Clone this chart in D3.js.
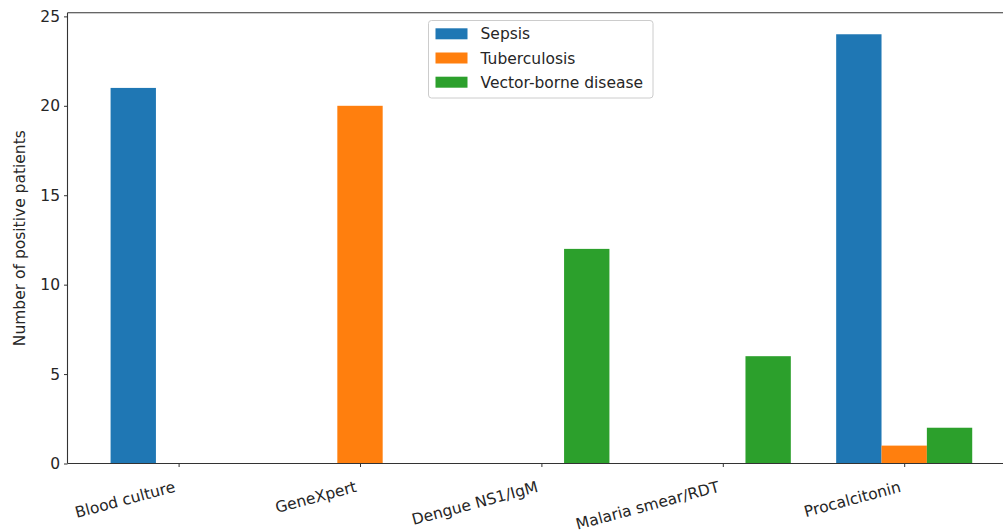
<!DOCTYPE html>
<html><head><meta charset="utf-8">
<script src="https://cdn.jsdelivr.net/npm/d3@7"></script>
<style>body{margin:0;background:#fff;} text{font-family:"DejaVu Sans",sans-serif;}</style>
</head><body>
<svg id="c" width="1003" height="530"></svg>
<script>
const categories = ["Blood culture","GeneXpert","Dengue NS1/IgM","Malaria smear/RDT","Procalcitonin"];
const seriesNames = ["Sepsis","Tuberculosis","Vector-borne disease"];
const sepsis = [21,0,0,0,24];
const tuberculosis = [0,20,0,0,1];
const vectorBorne = [0,0,12,6,2];
const yTicks = [0,5,10,15,20,25];
const colors = ["#1f77b4","#ff7f0e","#2ca02c"];
const seriesValues = [sepsis, tuberculosis, vectorBorne];
const offsets = [-0.25, 0, 0.25];
const barW = 0.25;
const FS = "15.5px";

const svg = d3.select("#c");
const pL = 67.5, pR = 1015.3, pT = 12.8, pB = 463.5;
const x = d3.scaleLinear().domain([-0.6125, 4.6125]).range([pL, pR]);
const y = d3.scaleLinear().domain([0, 25.2]).range([pB, pT]);
const g = svg.append("g");

seriesValues.forEach((vals, si) => {
  g.selectAll(".b"+si).data(vals.map((v,i)=>({v,i}))).enter().append("rect")
    .attr("x", d => x(d.i + offsets[si] - barW/2))
    .attr("width", d => x(barW) - x(0))
    .attr("y", d => y(d.v))
    .attr("height", d => y(0) - y(d.v))
    .attr("fill", colors[si]);
});

// axes
const yAxis = d3.axisLeft(y).tickValues(yTicks).tickSize(3.5).tickPadding(4);
const ya = svg.append("g").attr("transform",`translate(${pL},0)`).call(yAxis);
ya.select(".domain").remove();
ya.selectAll("text").attr("font-size",FS).attr("fill","#262626");
ya.selectAll("line").attr("stroke","#333");

const xAxis = d3.axisBottom(x).tickValues(d3.range(categories.length)).tickFormat(i=>categories[i]).tickSize(3.5).tickPadding(0);
const xa = svg.append("g").attr("transform",`translate(0,${pB})`).call(xAxis);
xa.select(".domain").remove();
xa.selectAll("line").attr("stroke","#333");
xa.selectAll("text").attr("font-size",FS).attr("fill","#262626")
  .attr("text-anchor","end").attr("dy",null).attr("y",0)
  .attr("transform","translate(-3,28) rotate(-15)");

// spines
const sp = [[pL,pT,pL,pB],[pL,pB,pR,pB],[pL,pT,pR,pT],[pR,pT,pR,pB]];
sp.forEach(s=>svg.append("line").attr("x1",s[0]).attr("y1",s[1]).attr("x2",s[2]).attr("y2",s[3]).attr("stroke","#333").attr("stroke-width",1.1));

// y label
svg.append("text").attr("transform",`translate(24.5,${(pT+pB)/2}) rotate(-90)`)
  .attr("text-anchor","middle").attr("font-size",FS).attr("fill","#262626")
  .text("Number of positive patients");

// legend
const lg = svg.append("g").attr("transform","translate(428.5,20.5)");
lg.append("rect").attr("x",0).attr("y",0).attr("width",224.5).attr("height",77.5).attr("rx",3)
  .attr("fill","#fff").attr("fill-opacity",0.8).attr("stroke","#ccc");
seriesNames.forEach((n,i)=>{
  const cy = 13.3 + i*24.2;
  lg.append("rect").attr("x",7).attr("y",cy-5.5).attr("width",32).attr("height",11).attr("fill",colors[i]);
  lg.append("text").attr("x",52).attr("y",cy+5.5).attr("font-size",FS).attr("fill","#262626").text(n);
});
</script>
</body></html>
